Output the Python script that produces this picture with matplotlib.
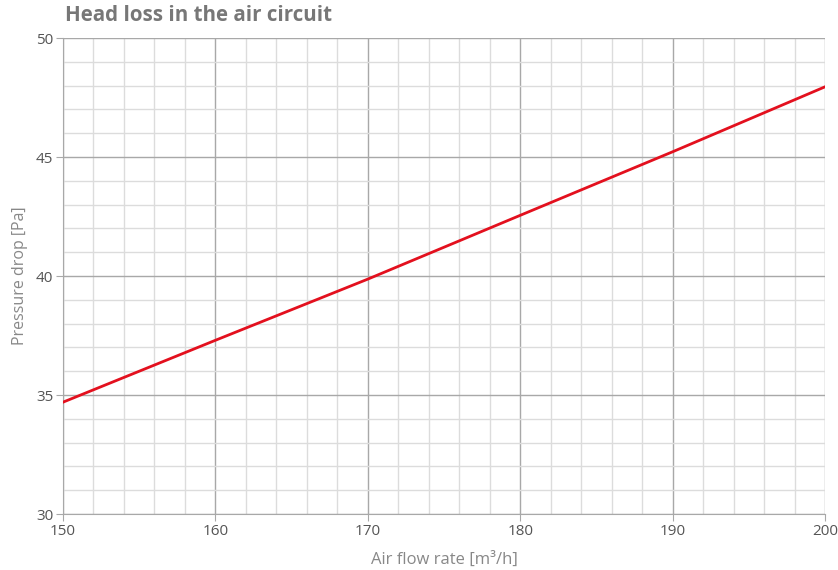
import matplotlib
matplotlib.use("Agg")
import matplotlib.pyplot as plt
from matplotlib.ticker import MultipleLocator

# data
flow_rate = [150, 160, 170, 180, 190, 200]
pressure_drop = [34.7, 37.3, 39.87, 42.55, 45.22, 47.95]

plt.rcParams['font.family'] = ['Open Sans', 'DejaVu Sans']

fig = plt.figure(figsize=(8.38, 5.70), dpi=100)
ax = fig.add_axes([0.0752, 0.0982, 0.9093, 0.8351])

ax.plot(flow_rate, pressure_drop, color='#e3101e', lw=2, zorder=3)

ax.set_xlim(150, 200)
ax.set_ylim(30, 50)
ax.xaxis.set_major_locator(MultipleLocator(10))
ax.xaxis.set_minor_locator(MultipleLocator(2))
ax.yaxis.set_major_locator(MultipleLocator(5))
ax.yaxis.set_minor_locator(MultipleLocator(1))
ax.grid(which='major', color='#a8a8a8', lw=1)
ax.grid(which='minor', color='#dcdcdc', lw=1)
ax.set_axisbelow(True)

for side in ('top', 'right'):
    ax.spines[side].set_visible(False)
for side in ('left', 'bottom'):
    ax.spines[side].set_color('#a8a8a8')
ax.tick_params(which='major', length=5, color='#a8a8a8', labelcolor='#555555', labelsize=11, pad=2)
ax.tick_params(which='minor', length=0)

ax.set_xlabel('Air flow rate [m³/h]', color='#888888', fontsize=12, labelpad=9)
ax.set_ylabel('Pressure drop [Pa]', color='#888888', fontsize=11.5, labelpad=6)
fig.text(0.078, 0.955, 'Head loss in the air circuit', color='#777777',
         fontsize=14.8, fontweight='bold', va='bottom', ha='left')

fig.savefig('out.png', dpi=100)
